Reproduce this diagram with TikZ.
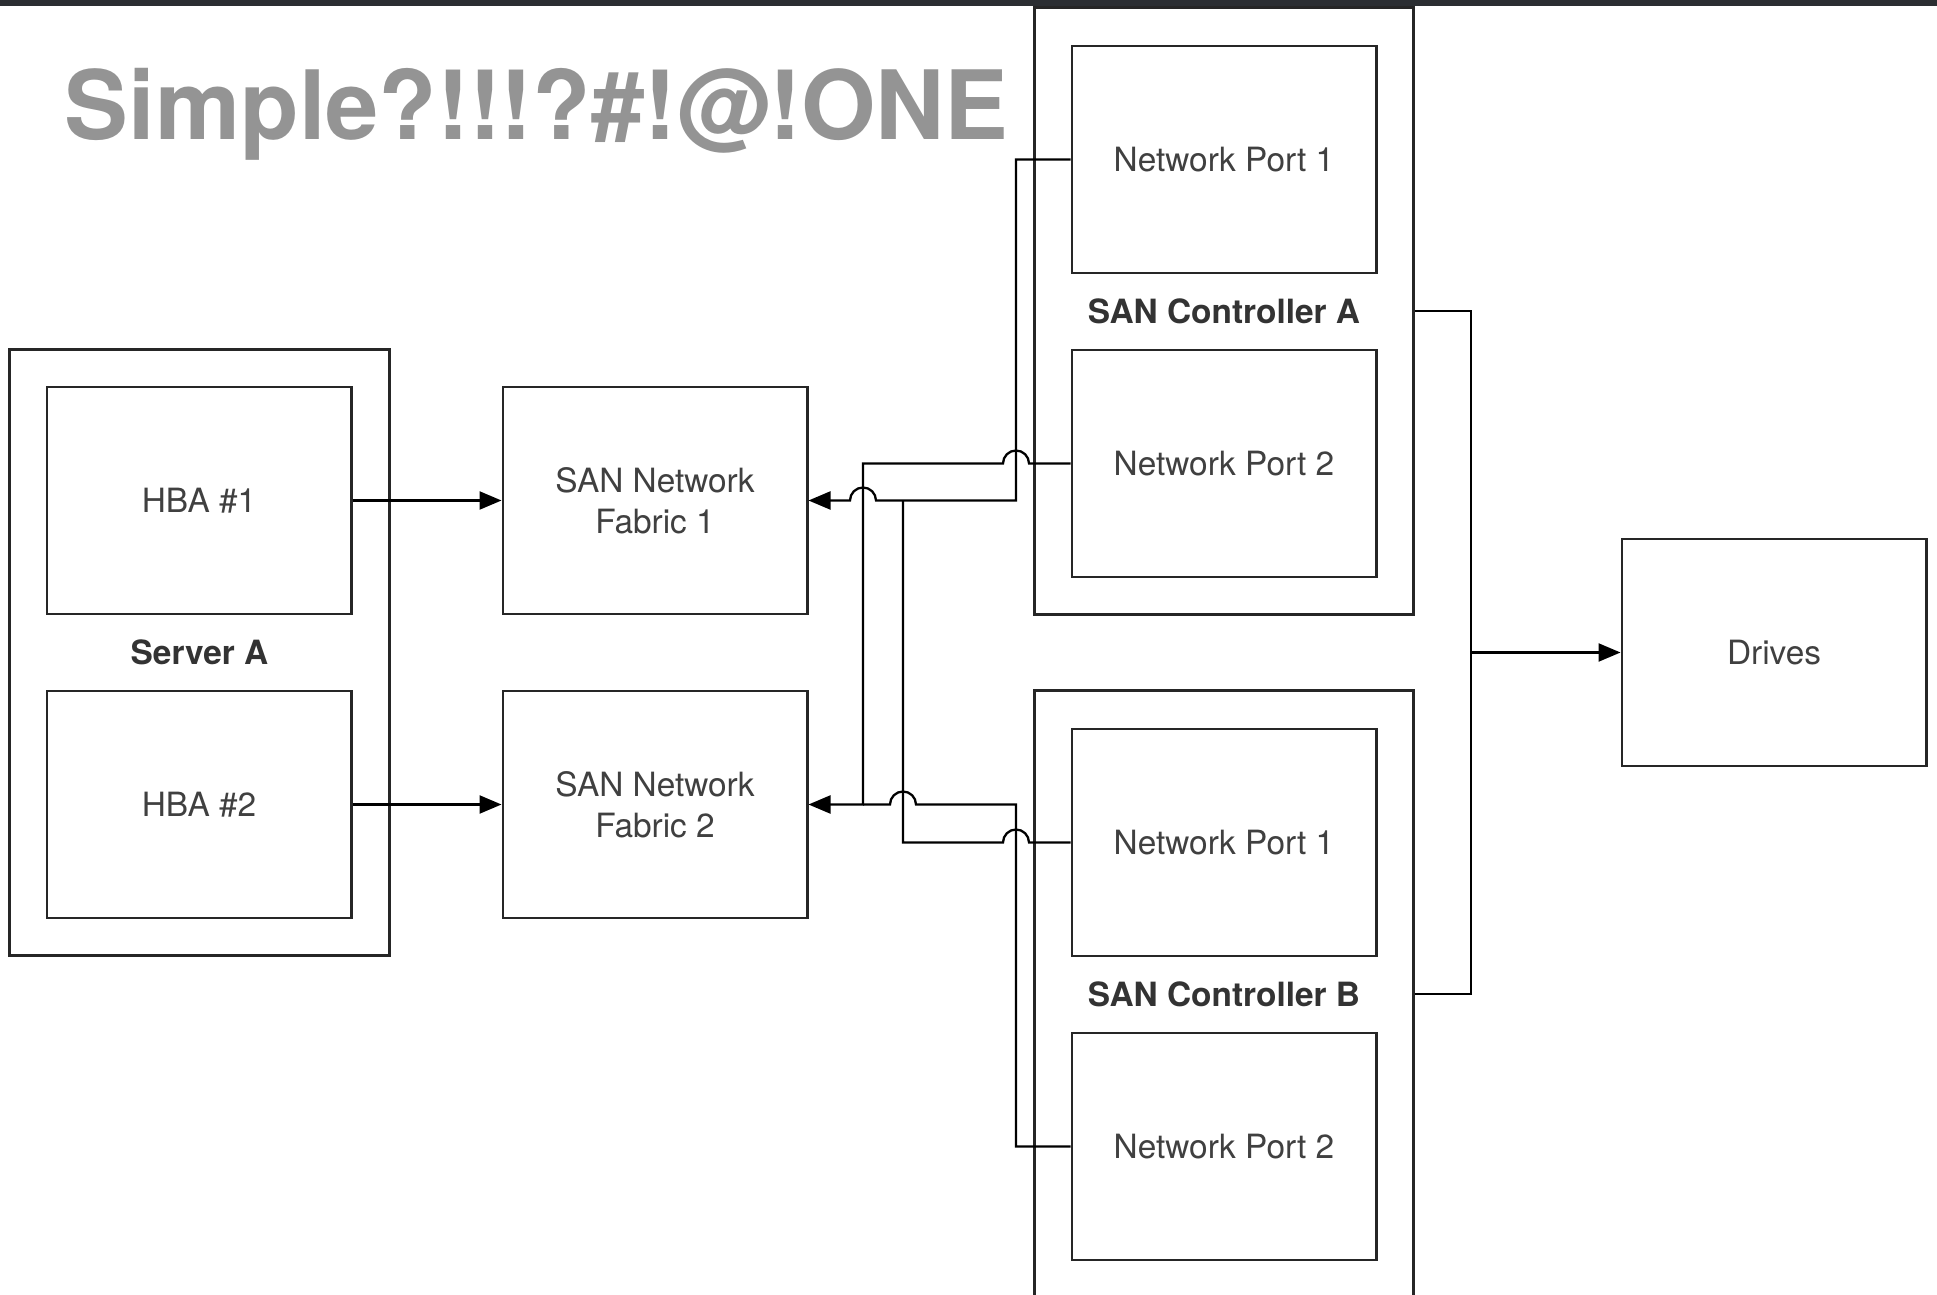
\documentclass[tikz,border=0pt]{standalone}
\usepackage{fontspec}
\setmainfont{TeX Gyre Heros}
\usetikzlibrary{calc, arrows.meta}

\definecolor{barcol}{RGB}{43,46,50}
\definecolor{titlegray}{RGB}{148,148,148}

\begin{document}
\begin{tikzpicture}[x=0.01cm, y=-0.01cm, >={Triangle[length=0.22cm, width=0.18cm]}]

		% --- Dimensions ---
		\def\boxW{3.04cm}
		\def\boxH{2.27cm}
		\def\hop{13}

		% --- Styles ---
		\tikzset{
			chassis/.style={draw=black!85, line width=0.8pt, fill=white, minimum width=3.79cm, minimum height=6.06cm, font=\fontsize{9.5}{11.7}\selectfont\bfseries, text=black!80},
			unit/.style={draw=black!85, line width=0.8pt, fill=white, minimum width=\boxW, minimum height=\boxH, align=center, font=\fontsize{9.5}{11.7}\selectfont, text=black!75},
			wire/.style={draw=black, line width=0.65pt},
			bump/.style={start angle=0, end angle=180, radius=0.13cm}
		}

		% --- Page ---
		\useasboundingbox (0,0) rectangle (1937,1295);
		\clip (0,0) rectangle (1937,1295);
		\fill[barcol] (0,0) rectangle (1937,6);

		\node[anchor=base west, inner sep=0pt, font=\fontsize{27.2}{30}\selectfont\bfseries, text=titlegray] (title) at (64,140) {Simple?!!!?\#!@!ONE};

		% --- Server ---
		\node[chassis] (server) at (199.5,652.5) {Server A};
		\node[unit] (hba1) at (199,500.5) {HBA \#1};
		\node[unit] (hba2) at (199,804.5) {HBA \#2};

		% --- Fabrics ---
		\node[unit] (fabric1) at (655,500.5) {SAN Network\\Fabric 1};
		\node[unit] (fabric2) at (655,804.5) {SAN Network\\Fabric 2};

		% --- Controllers ---
		\node[chassis] (ctrlA) at (1224,311) {SAN Controller A};
		\node[unit] (np1A) at (1224,159.5) {Network Port 1};
		\node[unit] (np2A) at (1224,463.5) {Network Port 2};

		\node[chassis] (ctrlB) at (1224,994) {SAN Controller B};
		\node[unit] (np1B) at (1224,842.5) {Network Port 1};
		\node[unit] (np2B) at (1224,1146.5) {Network Port 2};

		% --- Drives ---
		\node[unit] (drives) at (1774,652.5) {Drives};

		% --- Server to fabrics ---
		\draw[wire, ->] (hba1.east) -- (fabric1.east -| fabric1.west);
		\draw[wire, ->] (hba2.east) -- (fabric2.east -| fabric2.west);

		% --- Ports to fabrics ---
		\coordinate (xA) at (1016,0);
		\coordinate (xB) at (903,0);
		\coordinate (xC) at (863,0);

		\draw[wire, ->] (np1A.west) -| (fabric1.east -| xA)
			-- ($(fabric1.east -| xC)+(\hop,0)$) arc[bump] -- (fabric1.east);
		\draw[wire, ->] (np2A.west) -- ($(np2A.west -| xA)+(\hop,0)$) arc[bump]
			-- (np2A.west -| xC) |- (fabric2.east);
		\draw[wire] (np1B.west) -- ($(np1B.west -| xA)+(\hop,0)$) arc[bump]
			-- (np1B.west -| xB) -- (fabric1.east -| xB);
		\draw[wire] (np2B.west) -| (fabric2.east -| xA)
			-- ($(fabric2.east -| xB)+(\hop,0)$) arc[bump] -- (fabric2.east -| xC);

		% --- Controllers to drives ---
		\draw[wire] (ctrlA.east) -- ++(56,0) coordinate (bus) |- (ctrlB.east);
		\draw[wire, ->] (drives.west -| bus) -- (drives.west);

\end{tikzpicture}
\end{document}
